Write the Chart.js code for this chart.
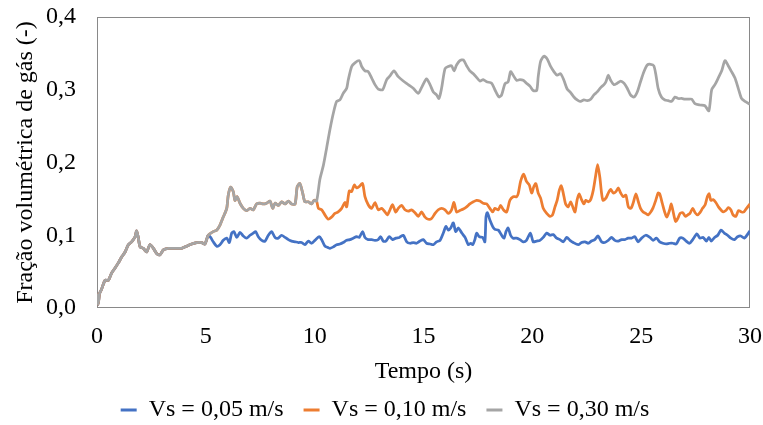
<!DOCTYPE html>
<html lang="pt-BR">
<head>
<meta charset="utf-8">
<title>Fração volumétrica de gás</title>
<script src="https://cdn.jsdelivr.net/npm/chart.js@4.4.1/dist/chart.umd.min.js"></script>
<style>
  html, body { margin: 0; padding: 0; background: #fff; }
  #grafico { display: block; }
</style>
</head>
<body>
<canvas id="grafico" width="763" height="425"></canvas>
<script>
// trecho inicial (0 a ~5 s), comum às três velocidades
const tempoInicio = [0, 0.05, 0.12, 0.2, 0.37, 0.52, 0.67, 0.83, 0.98, 1.13, 1.29, 1.44, 1.59, 1.75, 1.82, 1.9, 1.98, 2.13, 2.28, 2.43, 2.59, 2.74, 2.89, 3.05, 3.28, 3.66, 3.89, 4.12, 4.35, 4.58, 4.81, 4.96, 5.11];
const fracaoInicio = [0.02, 0.005, 0.02, 0.025, 0.038, 0.038, 0.048, 0.055, 0.062, 0.07, 0.077, 0.087, 0.091, 0.098, 0.106, 0.096, 0.084, 0.082, 0.077, 0.087, 0.082, 0.075, 0.073, 0.08, 0.082, 0.082, 0.082, 0.085, 0.088, 0.09, 0.09, 0.088, 0.1];

// trecho de 5 a 10 s, comum a 0,10 e 0,30 m/s
const tempoMeio = [5.34, 5.5, 5.65, 5.8, 5.96, 6.03, 6.14, 6.26, 6.34, 6.44, 6.57, 6.72, 6.88, 7.03, 7.18, 7.33, 7.49, 7.64, 7.79, 7.95, 8.07, 8.18, 8.33, 8.48, 8.64, 8.79, 8.94, 9.1, 9.2, 9.32, 9.45, 9.55, 9.71, 9.86, 9.97, 10.09];
const fracaoMeio = [0.105, 0.107, 0.114, 0.125, 0.137, 0.155, 0.166, 0.16, 0.148, 0.153, 0.144, 0.137, 0.134, 0.137, 0.135, 0.143, 0.144, 0.143, 0.144, 0.147, 0.137, 0.144, 0.141, 0.146, 0.143, 0.147, 0.143, 0.143, 0.167, 0.171, 0.158, 0.146, 0.146, 0.143, 0.148, 0.147];

// Vs = 0,05 m/s, depois de 5 s
const tempoVs005 = [5.22, 5.34, 5.5, 5.65, 5.8, 5.96, 6.08, 6.19, 6.29, 6.42, 6.57, 6.72, 6.88, 7.03, 7.18, 7.29, 7.41, 7.57, 7.72, 7.87, 8.02, 8.18, 8.33, 8.48, 8.64, 8.79, 8.94, 9.1, 9.25, 9.4, 9.55, 9.71, 9.86, 10.01, 10.21, 10.32, 10.47, 10.62, 10.7, 10.86, 11.01, 11.16, 11.31, 11.47, 11.62, 11.77, 11.93, 12.05, 12.2, 12.31, 12.46, 12.62, 12.77, 12.92, 13.03, 13.15, 13.27, 13.43, 13.58, 13.73, 13.89, 14.07, 14.23, 14.38, 14.53, 14.68, 14.84, 14.99, 15.14, 15.3, 15.45, 15.6, 15.76, 15.91, 16.03, 16.14, 16.25, 16.37, 16.48, 16.6, 16.76, 16.91, 17.06, 17.17, 17.26, 17.36, 17.44, 17.56, 17.72, 17.82, 17.87, 17.93, 18.05, 18.18, 18.28, 18.44, 18.59, 18.7, 18.79, 18.89, 19.0, 19.12, 19.28, 19.43, 19.58, 19.73, 19.91, 20.04, 20.2, 20.35, 20.5, 20.66, 20.81, 20.96, 21.12, 21.27, 21.42, 21.58, 21.73, 21.88, 22.11, 22.26, 22.42, 22.57, 22.72, 22.87, 23.02, 23.18, 23.33, 23.49, 23.64, 23.79, 23.95, 24.1, 24.25, 24.4, 24.56, 24.71, 24.86, 25.02, 25.21, 25.4, 25.55, 25.7, 25.85, 26.0, 26.15, 26.31, 26.46, 26.61, 26.77, 26.92, 27.07, 27.22, 27.37, 27.56, 27.7, 27.85, 28.0, 28.11, 28.22, 28.37, 28.52, 28.67, 28.82, 28.97, 29.12, 29.28, 29.43, 29.58, 29.74, 30];
const fracaoVs005 = [0.097, 0.091, 0.085, 0.087, 0.093, 0.096, 0.09, 0.103, 0.105, 0.097, 0.104, 0.099, 0.096, 0.1, 0.103, 0.105, 0.098, 0.093, 0.092, 0.1, 0.105, 0.097, 0.096, 0.1, 0.097, 0.094, 0.092, 0.091, 0.09, 0.09, 0.087, 0.092, 0.089, 0.093, 0.098, 0.094, 0.085, 0.083, 0.082, 0.084, 0.087, 0.088, 0.09, 0.093, 0.094, 0.096, 0.098, 0.097, 0.105, 0.097, 0.094, 0.094, 0.093, 0.094, 0.098, 0.092, 0.092, 0.098, 0.094, 0.096, 0.097, 0.1, 0.091, 0.089, 0.09, 0.089, 0.092, 0.094, 0.089, 0.088, 0.087, 0.091, 0.093, 0.103, 0.112, 0.107, 0.11, 0.117, 0.105, 0.11, 0.103, 0.097, 0.087, 0.089, 0.087, 0.094, 0.103, 0.098, 0.097, 0.091, 0.125, 0.131, 0.121, 0.112, 0.108, 0.107, 0.1, 0.096, 0.105, 0.11, 0.1, 0.096, 0.096, 0.094, 0.091, 0.093, 0.103, 0.091, 0.092, 0.093, 0.097, 0.103, 0.1, 0.101, 0.096, 0.094, 0.091, 0.097, 0.093, 0.09, 0.087, 0.09, 0.091, 0.089, 0.092, 0.094, 0.099, 0.091, 0.09, 0.093, 0.097, 0.093, 0.092, 0.094, 0.094, 0.096, 0.096, 0.098, 0.091, 0.096, 0.1, 0.097, 0.093, 0.096, 0.091, 0.089, 0.088, 0.089, 0.089, 0.088, 0.096, 0.096, 0.092, 0.089, 0.094, 0.102, 0.096, 0.097, 0.092, 0.097, 0.092, 0.097, 0.1, 0.107, 0.103, 0.1, 0.096, 0.094, 0.098, 0.099, 0.096, 0.106];

// Vs = 0,10 m/s, depois de 10 s
const tempoVs010 = [10.17, 10.32, 10.47, 10.62, 10.78, 10.93, 11.08, 11.24, 11.39, 11.47, 11.59, 11.7, 11.82, 11.93, 12.05, 12.2, 12.31, 12.46, 12.62, 12.77, 12.92, 13.08, 13.23, 13.34, 13.46, 13.58, 13.72, 13.84, 13.99, 14.15, 14.3, 14.45, 14.61, 14.76, 14.91, 15.07, 15.22, 15.37, 15.53, 15.68, 15.83, 15.99, 16.14, 16.29, 16.4, 16.52, 16.67, 16.83, 16.98, 17.13, 17.29, 17.44, 17.59, 17.74, 17.9, 18.05, 18.18, 18.28, 18.44, 18.54, 18.67, 18.82, 18.97, 19.12, 19.28, 19.35, 19.46, 19.6, 19.73, 19.86, 19.97, 20.07, 20.16, 20.27, 20.38, 20.5, 20.66, 20.81, 20.93, 21.04, 21.14, 21.24, 21.33, 21.42, 21.53, 21.65, 21.76, 21.88, 21.96, 22.06, 22.15, 22.26, 22.37, 22.46, 22.57, 22.68, 22.8, 22.9, 23.0, 23.1, 23.18, 23.25, 23.38, 23.49, 23.6, 23.72, 23.84, 23.95, 24.06, 24.18, 24.3, 24.41, 24.53, 24.64, 24.76, 24.87, 24.97, 25.09, 25.21, 25.32, 25.44, 25.55, 25.67, 25.78, 25.85, 25.97, 26.08, 26.18, 26.31, 26.38, 26.45, 26.58, 26.68, 26.79, 26.91, 27.03, 27.14, 27.24, 27.37, 27.48, 27.59, 27.7, 27.82, 27.94, 28.04, 28.12, 28.2, 28.3, 28.43, 28.55, 28.66, 28.77, 28.89, 29.01, 29.12, 29.22, 29.35, 29.47, 29.61, 29.72, 29.84, 30];
const fracaoVs010 = [0.137, 0.135, 0.128, 0.122, 0.125, 0.13, 0.132, 0.137, 0.145, 0.139, 0.161, 0.16, 0.169, 0.165, 0.167, 0.171, 0.153, 0.142, 0.137, 0.145, 0.135, 0.137, 0.132, 0.128, 0.135, 0.142, 0.132, 0.137, 0.141, 0.135, 0.133, 0.135, 0.131, 0.126, 0.132, 0.125, 0.122, 0.123, 0.13, 0.135, 0.137, 0.135, 0.13, 0.135, 0.145, 0.132, 0.134, 0.136, 0.139, 0.143, 0.146, 0.148, 0.147, 0.144, 0.143, 0.137, 0.132, 0.137, 0.135, 0.141, 0.135, 0.132, 0.148, 0.153, 0.153, 0.157, 0.174, 0.184, 0.174, 0.169, 0.158, 0.167, 0.171, 0.158, 0.151, 0.137, 0.13, 0.126, 0.128, 0.139, 0.148, 0.162, 0.168, 0.158, 0.143, 0.139, 0.146, 0.137, 0.132, 0.149, 0.157, 0.149, 0.143, 0.148, 0.146, 0.149, 0.162, 0.18, 0.197, 0.18, 0.158, 0.148, 0.151, 0.158, 0.163, 0.158, 0.16, 0.165, 0.158, 0.153, 0.155, 0.139, 0.137, 0.145, 0.157, 0.146, 0.137, 0.132, 0.13, 0.128, 0.132, 0.138, 0.148, 0.158, 0.157, 0.144, 0.132, 0.125, 0.135, 0.143, 0.135, 0.119, 0.123, 0.13, 0.131, 0.126, 0.128, 0.13, 0.137, 0.131, 0.128, 0.131, 0.137, 0.142, 0.153, 0.157, 0.148, 0.149, 0.145, 0.139, 0.135, 0.132, 0.134, 0.138, 0.135, 0.128, 0.126, 0.134, 0.132, 0.132, 0.137, 0.143];

// Vs = 0,30 m/s, depois de 10 s
const tempoVs030 = [10.24, 10.4, 10.55, 10.7, 10.86, 11.01, 11.16, 11.31, 11.47, 11.54, 11.7, 11.85, 12.05, 12.16, 12.31, 12.46, 12.62, 12.77, 12.92, 13.12, 13.31, 13.46, 13.64, 13.84, 14.07, 14.3, 14.53, 14.76, 14.91, 15.14, 15.3, 15.45, 15.6, 15.71, 15.83, 15.99, 16.14, 16.29, 16.4, 16.52, 16.67, 16.83, 16.98, 17.13, 17.29, 17.44, 17.59, 17.74, 17.9, 18.13, 18.28, 18.47, 18.59, 18.74, 18.89, 19.0, 19.12, 19.28, 19.43, 19.58, 19.73, 19.89, 20.04, 20.2, 20.27, 20.38, 20.53, 20.69, 20.84, 20.99, 21.14, 21.3, 21.45, 21.6, 21.76, 21.91, 22.06, 22.19, 22.37, 22.52, 22.68, 22.83, 22.98, 23.14, 23.29, 23.38, 23.49, 23.6, 23.75, 23.9, 24.06, 24.21, 24.36, 24.51, 24.67, 24.82, 24.97, 25.13, 25.28, 25.43, 25.58, 25.68, 25.78, 25.93, 26.09, 26.24, 26.4, 26.55, 26.7, 26.86, 27.01, 27.16, 27.32, 27.47, 27.7, 27.93, 28.11, 28.24, 28.39, 28.54, 28.7, 28.85, 29.0, 29.15, 29.31, 29.46, 29.61, 29.77, 30];
const fracaoVs030 = [0.177, 0.196, 0.22, 0.245, 0.268, 0.284, 0.286, 0.295, 0.302, 0.313, 0.332, 0.337, 0.34, 0.332, 0.326, 0.325, 0.316, 0.307, 0.301, 0.3, 0.314, 0.319, 0.326, 0.318, 0.312, 0.307, 0.302, 0.295, 0.303, 0.315, 0.307, 0.297, 0.293, 0.288, 0.302, 0.329, 0.332, 0.333, 0.326, 0.334, 0.34, 0.341, 0.333, 0.326, 0.322, 0.317, 0.312, 0.314, 0.311, 0.309, 0.3, 0.29, 0.293, 0.308, 0.311, 0.325, 0.32, 0.313, 0.314, 0.313, 0.309, 0.305, 0.299, 0.299, 0.318, 0.339, 0.346, 0.342, 0.332, 0.325, 0.32, 0.322, 0.313, 0.301, 0.296, 0.29, 0.286, 0.284, 0.286, 0.285, 0.287, 0.293, 0.297, 0.303, 0.307, 0.311, 0.32, 0.313, 0.307, 0.309, 0.312, 0.309, 0.302, 0.293, 0.29, 0.297, 0.311, 0.325, 0.334, 0.335, 0.333, 0.32, 0.302, 0.29, 0.286, 0.285, 0.284, 0.29, 0.288, 0.288, 0.287, 0.287, 0.287, 0.281, 0.279, 0.278, 0.271, 0.3, 0.307, 0.316, 0.326, 0.34, 0.333, 0.325, 0.316, 0.302, 0.288, 0.284, 0.28];

const rotulos = ['Vs = 0,05 m/s', 'Vs = 0,10 m/s', 'Vs = 0,30 m/s'];
const cores = ['#4472C4', '#ED7D31', '#A5A5A5'];

const fonte = "'Liberation Serif', 'Times New Roman', serif";

function pontos(tempos, valores) {
  return tempos.map((t, i) => ({ x: t, y: valores[i] }));
}

const serieVs005 = pontos(tempoInicio.concat(tempoVs005), fracaoInicio.concat(fracaoVs005));
const serieVs010 = pontos(tempoInicio.concat(tempoMeio, tempoVs010), fracaoInicio.concat(fracaoMeio, fracaoVs010));
const serieVs030 = pontos(tempoInicio.concat(tempoMeio, tempoVs030), fracaoInicio.concat(fracaoMeio, fracaoVs030));

// contorno cinza da área do gráfico
const moldura = {
  id: 'moldura',
  beforeDatasetsDraw(chart) {
    const { ctx, chartArea: a } = chart;
    ctx.save();
    ctx.strokeStyle = '#898989';
    ctx.lineWidth = 1;
    ctx.strokeRect(a.left + 0.5, a.top + 0.5, a.width - 1, a.height - 1);
    ctx.restore();
  }
};

function linha(indice, dados, ordem) {
  return {
    label: rotulos[indice],
    data: dados,
    borderColor: cores[indice],
    backgroundColor: cores[indice],
    borderWidth: 2.75,
    pointRadius: 0,
    tension: 0.25,
    order: ordem
  };
}

const ctx = document.getElementById('grafico').getContext('2d');
const grafico = new Chart(ctx, {
  type: 'line',
  data: {
    datasets: [
      linha(0, serieVs005, 2),
      linha(1, serieVs010, 1),
      linha(2, serieVs030, 0) // cinza por cima das outras
    ]
  },
  plugins: [moldura],
  options: {
    responsive: false,
    animation: false,
    layout: { padding: { top: 17, right: 13, bottom: 0, left: 20 } },
    plugins: {
      tooltip: { enabled: false },
      legend: {
        position: 'bottom',
        maxHeight: 47,
        labels: {
          color: '#000',
          font: { family: fonte, size: 24 },
          boxWidth: 16,
          boxHeight: 3,
          padding: 20,
          sort: (a, b) => a.datasetIndex - b.datasetIndex,
          generateLabels(chart) {
            return Chart.defaults.plugins.legend.labels.generateLabels(chart)
              .map(item => Object.assign(item, { lineWidth: 0 }));
          }
        }
      }
    },
    scales: {
      x: {
        type: 'linear',
        min: 0,
        max: 30,
        // marcas invisíveis: só afastam os rótulos do eixo
        grid: { display: false, drawTicks: true, tickLength: 14 },
        border: { display: false },
        ticks: {
          stepSize: 5,
          maxRotation: 0,
          padding: 0,
          color: '#000',
          font: { family: fonte, size: 24 }
        },
        title: {
          display: true,
          text: 'Tempo (s)',
          color: '#000',
          font: { family: fonte, size: 24, lineHeight: 1 },
          padding: { top: 0, bottom: -6 }
        },
        afterFit(scale) { scale.height = 70; }
      },
      y: {
        min: 0,
        max: 0.4,
        grid: { display: false, drawTicks: true, tickLength: 21 },
        border: { display: false },
        ticks: {
          stepSize: 0.1,
          padding: 0,
          color: '#000',
          font: { family: fonte, size: 24 },
          callback: v => v.toFixed(1).replace('.', ',')
        },
        title: {
          display: true,
          text: 'Fração volumétrica de gás (-)',
          color: '#000',
          font: { family: fonte, size: 24, lineHeight: 1 },
          padding: { top: -6, bottom: 0 }
        },
        afterFit(scale) { scale.width = 77; }
      }
    }
  }
});
</script>
</body>
</html>
